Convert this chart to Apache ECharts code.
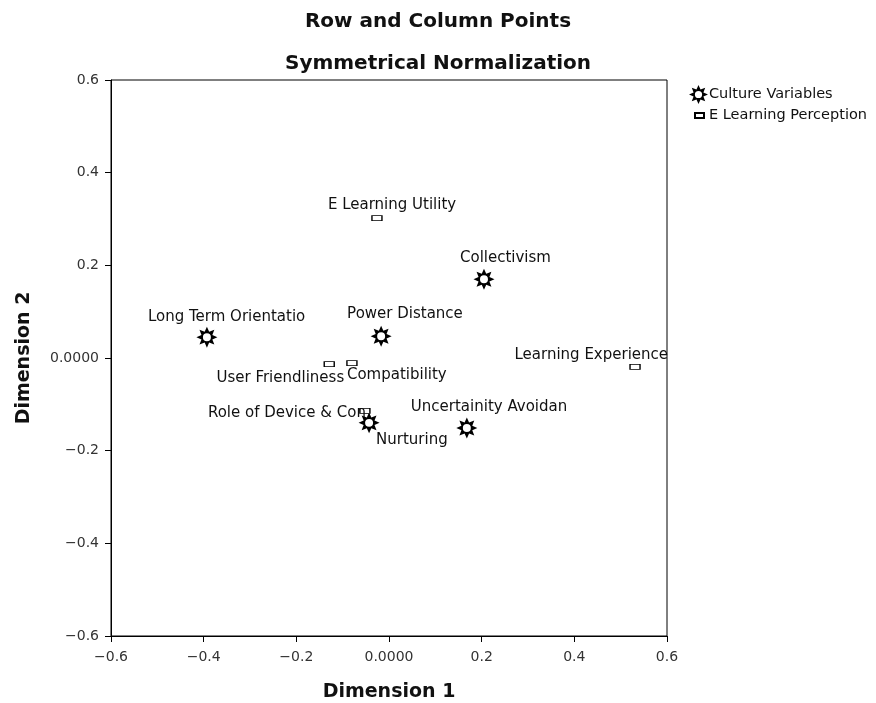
<!DOCTYPE html>
<html>
<head>
<meta charset="utf-8">
<script src="https://cdn.jsdelivr.net/npm/echarts@6/dist/echarts.min.js"></script>
<style>
  html, body { margin: 0; padding: 0; background: #fff; }
  #chart { width: 876px; height: 703px; }
</style>
</head>
<body>
<div id="chart"></div>
<script>
// culture variables (row points)
const cultureNames = ['Long Term Orientatio', 'Power Distance', 'Collectivism', 'Nurturing', 'Uncertainity Avoidan'];
const cultureDim1 = [-0.393, -0.017, 0.205, -0.043, 0.168];
const cultureDim2 = [0.045, 0.047, 0.170, -0.140, -0.151];

// e learning perception (column points)
const perceptionNames = ['E Learning Utility', 'User Friendliness', 'Compatibility', 'Role of Device & Con', 'Learning Experience'];
const perceptionDim1 = [-0.026, -0.129, -0.080, -0.052, 0.531];
const perceptionDim2 = [0.302, -0.013, -0.011, -0.114, -0.019];

const tickLabels = ['\u22120.6', '\u22120.4', '\u22120.2', '0.0000', '0.2', '0.4', '0.6'];

// label placement, like spss puts them (anchor edge + pixel offset)
const labelPlace = {
  'Long Term Orientatio': { align: 'left', offset: [-59, -20] },
  'Power Distance': { align: 'left', offset: [-34, -22] },
  'Collectivism': { align: 'left', offset: [-24, -21] },
  'Nurturing': { align: 'left', offset: [7, 17] },
  'Uncertainity Avoidan': { align: 'left', offset: [-56, -21] },
  'E Learning Utility': { align: 'left', offset: [-49, -13] },
  'User Friendliness': { align: 'right', offset: [15, 14] },
  'Compatibility': { align: 'left', offset: [-5, 12] },
  'Role of Device & Con': { align: 'right', offset: [1, 2] },
  'Learning Experience': { align: 'right', offset: [33, -12] },
};

// 8 point star with a round hole in the middle
function starPath() {
  let d = '';
  for (let i = 0; i < 16; i++) {
    const r = i % 2 === 0 ? 10 : 5.6;
    const a = Math.PI * i / 8 - Math.PI / 2;
    d += (i === 0 ? 'M' : 'L') + (10 + r * Math.cos(a)).toFixed(2) + ',' + (10 + r * Math.sin(a)).toFixed(2);
  }
  d += 'Z';
  d += 'M10,6.2A3.8,3.8 0 0 0 10,13.8A3.8,3.8 0 0 0 10,6.2Z';
  return 'path://' + d;
}
const STAR = starPath();

function points(names, xs, ys) {
  return names.map((n, i) => ({
    name: n,
    value: [xs[i], ys[i]],
    label: {
      show: true,
      position: 'inside',
      formatter: '{b}',
      verticalAlign: 'middle',
      align: labelPlace[n].align,
      offset: labelPlace[n].offset,
    },
  }));
}

const font = '"DejaVu Sans", sans-serif';

function axis(name, gap, labelMargin) {
  return {
    type: 'value',
    min: -0.6,
    max: 0.6,
    interval: 0.2,
    name: name,
    nameGap: gap,
    nameLocation: 'middle',
    nameTextStyle: { color: '#111', fontSize: 19, fontWeight: 'bold', fontFamily: font },
    splitLine: { show: false },
    axisLine: { show: true, onZero: false, lineStyle: { color: '#000', width: 1 } },
    axisTick: { show: true, inside: false, length: 6, lineStyle: { color: '#000' } },
    axisLabel: {
      color: '#333',
      fontSize: 14,
      fontFamily: font,
      margin: labelMargin,
      formatter: (v, i) => tickLabels[i],
    },
  };
}

const chart = echarts.init(document.getElementById('chart'));
chart.setOption({
  animation: false,
  backgroundColor: '#fff',
  title: [
    { text: 'Row and Column Points', left: 'center', top: 7,
      textStyle: { fontSize: 20, fontWeight: 'bold', color: '#111', fontFamily: font } },
    { text: 'Symmetrical Normalization', left: 'center', top: 49,
      textStyle: { fontSize: 20, fontWeight: 'bold', color: '#111', fontFamily: font } },
  ],
  legend: [
    {
      orient: 'vertical', left: 684, top: 80,
      itemWidth: 19, itemHeight: 19, itemGap: 4,
      data: ['Culture Variables'],
      textStyle: { fontSize: 14.5, color: '#111', fontFamily: font, padding: [0, 0, 0, -4] },
    },
    {
      orient: 'vertical', left: 689, top: 103,
      itemWidth: 9, itemHeight: 5,
      data: ['E Learning Perception'],
      textStyle: { fontSize: 14.5, color: '#111', fontFamily: font },
    },
  ],
  grid: {
    left: 111, right: 209, top: 80, bottom: 67,
    outerBoundsMode: 'none',
    show: true, borderColor: '#000', borderWidth: 1,
  },
  xAxis: axis('Dimension 1', 47, 14),
  yAxis: Object.assign(axis('Dimension 2', 77, 12), { nameRotate: 90 }),
  series: [
    {
      name: 'Culture Variables',
      type: 'scatter',
      symbol: STAR,
      symbolSize: 21,
      itemStyle: { color: '#000', borderWidth: 0, opacity: 1 },
      label: { color: '#111', fontSize: 15, fontFamily: font },
      data: points(cultureNames, cultureDim1, cultureDim2),
    },
    {
      name: 'E Learning Perception',
      type: 'scatter',
      symbol: 'rect',
      symbolSize: [10, 5],
      itemStyle: { color: '#fff', borderColor: '#000', borderWidth: 1, opacity: 1 },
      label: { color: '#111', fontSize: 15, fontFamily: font },
      data: points(perceptionNames, perceptionDim1, perceptionDim2),
    },
  ],
});
</script>
</body>
</html>
